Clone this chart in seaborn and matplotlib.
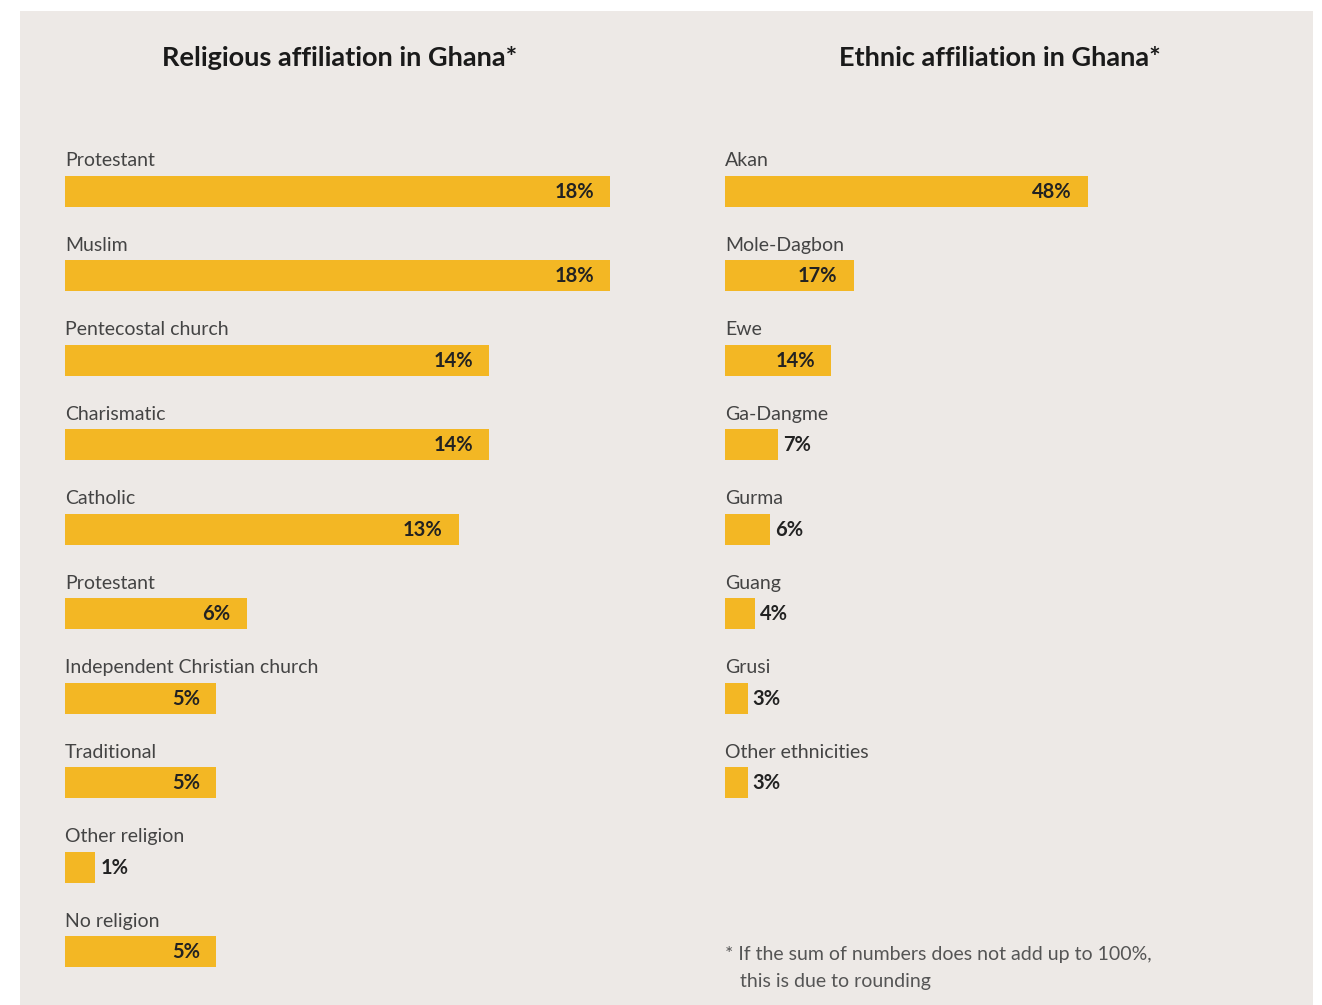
import matplotlib
matplotlib.use("Agg")
import matplotlib.pyplot as plt
from matplotlib.patches import Rectangle
import seaborn as sns
import pandas as pd

# Data
religion_labels = ["Protestant", "Muslim", "Pentecostal church", "Charismatic", "Catholic",
                   "Protestant", "Independent Christian church", "Traditional",
                   "Other religion", "No religion"]
religion_values = [18, 18, 14, 14, 13, 6, 5, 5, 1, 5]

ethnic_labels = ["Akan", "Mole-Dagbon", "Ewe", "Ga-Dangme", "Gurma", "Guang",
                 "Grusi", "Other ethnicities"]
ethnic_values = [48, 17, 14, 7, 6, 4, 3, 3]

titles = ["Religious affiliation in Ghana*", "Ethnic affiliation in Ghana*"]
footnote_lines = ["* If the sum of numbers does not add up to 100%,",
                  "   this is due to rounding"]

sns.set_theme(style="white")
plt.rcParams["font.family"] = ["Lato", "DejaVu Sans"]

W, H = 1322, 1005
BAR = "#f3b724"
PANEL = "#ede9e6"
TEXT = "#444444"

fig = plt.figure(figsize=(W / 100, H / 100), dpi=100)
fig.patch.set_facecolor("white")
fig.patches.append(Rectangle((20 / W, 0), (1313 - 20) / W, (H - 11) / H,
                             transform=fig.transFigure, facecolor=PANEL,
                             edgecolor="none", zorder=-5))

ROW0, STEP = 191.0, 84.5  # pixel centre of first row, row pitch


def panel(left_px, width_px, xmax, labels, values, title, title_cx):
    ax = fig.add_axes([left_px / W, 0, width_px / W, 1])
    ax.set_facecolor("none")
    ax.set_zorder(2)
    df = pd.DataFrame({"row": list(range(len(values))), "value": values})
    sns.barplot(data=df, x="value", y="row", orient="h", color=BAR,
                saturation=1, width=31 / STEP, linewidth=0, ax=ax)
    ax.set_xlim(0, xmax)
    ax.set_ylim((H - ROW0) / STEP, -ROW0 / STEP)
    ax.set_axis_off()
    px_per_unit = width_px / xmax
    for i, (lab, v) in enumerate(zip(labels, values)):
        ax.text(0, i - 25 / STEP, lab, ha="left", va="baseline",
                fontsize=14, color=TEXT)
        if v * px_per_unit > 80:
            ax.annotate(f"{v}%", xy=(v, i), xytext=(-16 * 0.72, -0.5),
                        textcoords="offset points", ha="right", va="center",
                        fontsize=14.5, fontweight="bold", color="#222222")
        else:
            ax.annotate(f"{v}%", xy=(v, i), xytext=(5 * 0.72, -0.5),
                        textcoords="offset points", ha="left", va="center",
                        fontsize=14.5, fontweight="bold", color="#222222")
    fig.text(title_cx / W, 1 - 66 / H, title, ha="center", va="baseline",
             fontsize=19.5, fontweight="bold", color="#1a1a1a", zorder=3)
    return ax


panel(65, 545, 18, religion_labels, religion_values, titles[0], 340)
panel(725, 363, 48, ethnic_labels, ethnic_values, titles[1], 1000)

for k, line in enumerate(footnote_lines):
    fig.text(725 / W, 1 - (960 + 27 * k) / H, line, ha="left", va="baseline",
             fontsize=14, color="#555555", zorder=3)

fig.savefig("out.png", dpi=100, facecolor="white")
